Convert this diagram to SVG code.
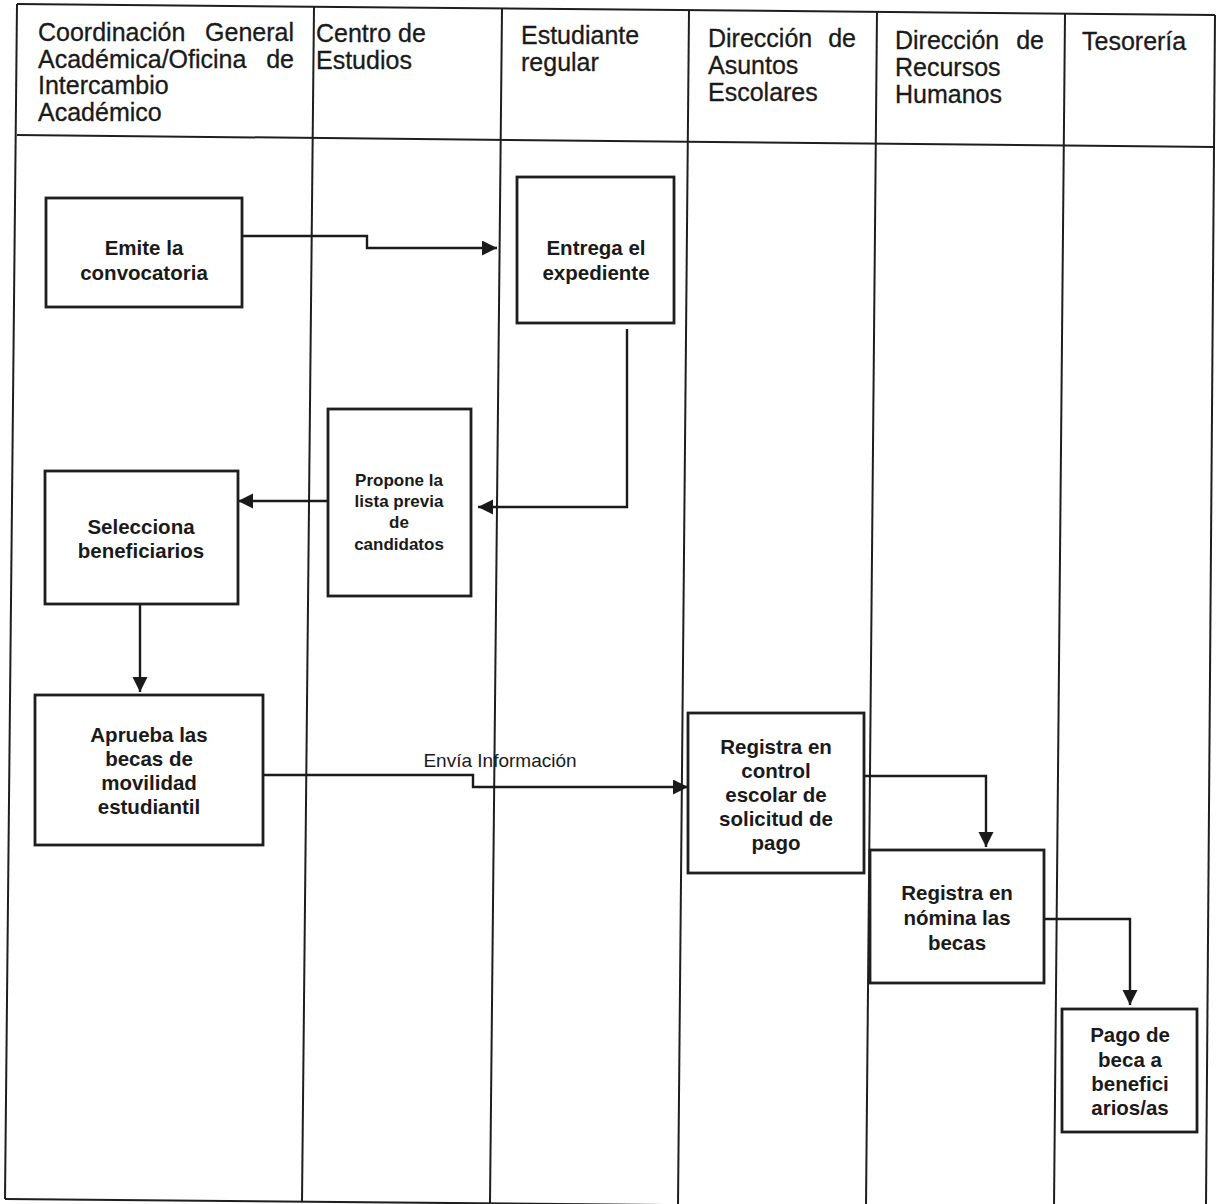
<svg xmlns="http://www.w3.org/2000/svg" width="1216" height="1204" viewBox="0 0 1216 1204">
<defs>
<marker id="ah" markerUnits="userSpaceOnUse" markerWidth="16" markerHeight="16" refX="15" refY="7.5" orient="auto">
<path d="M0,0 L15,7.5 L0,15 z" fill="#1a1a1a"/>
</marker>
<style>
.tl{stroke:#1e1e1e;stroke-width:2;fill:none}
.box rect{fill:#fff;stroke:#1e1e1e;stroke-width:2.8}
.h{font-family:"Liberation Sans",Arial,sans-serif;font-size:25px;fill:#1a1a1a;stroke:#1a1a1a;stroke-width:0.3}
.he{text-anchor:end}
.t{font-family:"Liberation Sans",Arial,sans-serif;font-weight:bold;font-size:20.5px;text-anchor:middle;fill:#1a1a1a}
.ts{font-size:17px}
.conn path{stroke:#1a1a1a;stroke-width:2.4;fill:none}
.arr{marker-end:url(#ah)}
.lbl{font-family:"Liberation Sans",Arial,sans-serif;font-size:19px;fill:#1a1a1a;text-anchor:middle}
</style>
</defs>
<rect width="1216" height="1204" fill="#fff"/>
<g id="table">
<path class="tl" d="M17,4 L1215,15"/>
<path class="tl" d="M17,135 L1215,147"/>
<path class="tl" d="M5,1199 L1216,1210"/>
<path class="tl" d="M17,4 L5,1199"/>
<path class="tl" d="M1215,15 L1206,1204"/>
<path class="tl" d="M314,7 L302,1202"/>
<path class="tl" d="M502,9 L490,1203"/>
<path class="tl" d="M689,11 L678,1205"/>
<path class="tl" d="M877,12 L866,1206"/>
<path class="tl" d="M1065,14 L1054,1207"/>
</g>
<g id="lanes">
<g id="lane1">
<text class="h" x="38" y="41">Coordinación</text><text class="h he" x="294" y="41">General</text>
<text class="h" x="38" y="68">Académica/Oficina</text><text class="h he" x="294" y="68">de</text>
<text class="h" x="38" y="94">Intercambio</text>
<text class="h" x="38" y="121">Académico</text>
</g>
<g id="lane2">
<text class="h" x="316" y="42">Centro de</text>
<text class="h" x="316" y="69">Estudios</text>
</g>
<g id="lane3">
<text class="h" x="521" y="44">Estudiante</text>
<text class="h" x="521" y="71">regular</text>
</g>
<g id="lane4">
<text class="h" x="708" y="47">Dirección</text><text class="h he" x="856" y="47">de</text>
<text class="h" x="708" y="74">Asuntos</text>
<text class="h" x="708" y="101">Escolares</text>
</g>
<g id="lane5">
<text class="h" x="895" y="49">Dirección</text><text class="h he" x="1044" y="49">de</text>
<text class="h" x="895" y="76">Recursos</text>
<text class="h" x="895" y="103">Humanos</text>
</g>
<g id="lane6">
<text class="h" x="1082" y="50">Tesorería</text>
</g>
</g>
<g id="connectors" class="conn">
<path class="arr" d="M242,236 H367 V248 H497"/>
<path class="arr" d="M627,329 V507 H478"/>
<path class="arr" d="M328,501 H238"/>
<path class="arr" d="M140,604 V692"/>
<path class="arr" d="M260,775 H473 V787 H688"/>
<text class="lbl" x="500" y="767">Envía Información</text>
<path class="arr" d="M864,776 H986 V847"/>
<path class="arr" d="M1043,919 H1130 V1005"/>
</g>
<g id="n1" class="box"><rect x="46" y="198" width="196" height="109"/>
<text class="t" x="144" y="255">Emite la</text><text class="t" x="144" y="280">convocatoria</text></g>
<g id="n2" class="box"><rect x="517" y="177" width="157" height="146"/>
<text class="t" x="596" y="255">Entrega el</text><text class="t" x="596" y="280">expediente</text></g>
<g id="n3" class="box"><rect x="328" y="409" width="143" height="187"/>
<text class="t ts" x="399" y="486">Propone la</text><text class="t ts" x="399" y="507">lista previa</text><text class="t ts" x="399" y="528">de</text><text class="t ts" x="399" y="550">candidatos</text></g>
<g id="n4" class="box"><rect x="45" y="471" width="193" height="133"/>
<text class="t" x="141" y="534">Selecciona</text><text class="t" x="141" y="558">beneficiarios</text></g>
<g id="n5" class="box"><rect x="35" y="695" width="228" height="150"/>
<text class="t" x="149" y="742">Aprueba las</text><text class="t" x="149" y="766">becas de</text><text class="t" x="149" y="790">movilidad</text><text class="t" x="149" y="814">estudiantil</text></g>
<g id="n6" class="box"><rect x="688" y="713" width="176" height="160"/>
<text class="t" x="776" y="754">Registra en</text><text class="t" x="776" y="778">control</text><text class="t" x="776" y="802">escolar de</text><text class="t" x="776" y="826">solicitud de</text><text class="t" x="776" y="850">pago</text></g>
<g id="n7" class="box"><rect x="870" y="850" width="174" height="133"/>
<text class="t" x="957" y="900">Registra en</text><text class="t" x="957" y="925">nómina las</text><text class="t" x="957" y="950">becas</text></g>
<g id="n8" class="box"><rect x="1062" y="1009" width="135" height="123"/>
<text class="t" x="1130" y="1042">Pago de</text><text class="t" x="1130" y="1067">beca a</text><text class="t" x="1130" y="1091">benefici</text><text class="t" x="1130" y="1115">arios/as</text></g>
</svg>
